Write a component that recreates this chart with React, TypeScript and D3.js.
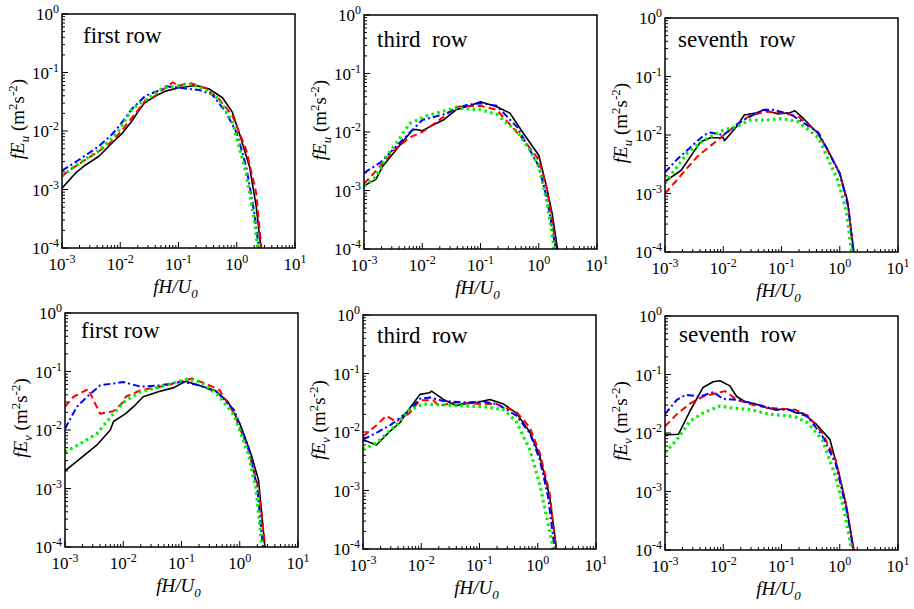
import React from "react";
import * as d3 from "d3";

type Pt = [number, number];

// ---------- data: [fH/U0, fE] pairs ----------
// Panel 1: fE_u, first row
const p1Black: Pt[] = [[1e-3,1.05e-3],[1.7e-3,1.9e-3],[2.5e-3,2.6e-3],[4.3e-3,3.7e-3],[7.3e-3,6.3e-3],[1.1e-2,9.3e-3],[1.6e-2,0.015],[2e-2,0.021],[2.6e-2,0.03],[4.1e-2,0.04],[6e-2,0.048],[0.1,0.055],[0.2,0.06],[0.34,0.052],[0.57,0.037],[0.84,0.021],[1.1,9.3e-3],[1.65,2.5e-3],[2.15,5.3e-4],[2.6,1e-4]];
const p1Red: Pt[] = [[1e-3,1.7e-3],[1.5e-3,2.3e-3],[2.5e-3,3.2e-3],[4.3e-3,4.5e-3],[7e-3,6.5e-3],[1e-2,9.5e-3],[1.6e-2,0.017],[2.7e-2,0.033],[4e-2,0.04],[6.7e-2,0.06],[8e-2,0.068],[0.1,0.059],[0.15,0.067],[0.28,0.055],[0.5,0.035],[0.85,0.018],[1.45,4.8e-3],[2.15,8.8e-4],[2.65,1e-4]];
const p1Blue: Pt[] = [[1e-3,2.1e-3],[1.5e-3,2.7e-3],[2.5e-3,3.8e-3],[4.3e-3,5.5e-3],[7e-3,8.5e-3],[9.5e-3,0.012],[1.6e-2,0.024],[2.7e-2,0.04],[5.3e-2,0.052],[6e-2,0.058],[0.1,0.055],[0.23,0.05],[0.38,0.042],[0.65,0.021],[1.0,9.3e-3],[1.45,2.5e-3],[2.0,4e-4],[2.4,1e-4]];
const p1Green: Pt[] = [[1e-3,1.7e-3],[1.5e-3,2.3e-3],[2.5e-3,3.3e-3],[4.3e-3,4.6e-3],[7e-3,7.2e-3],[1e-2,0.011],[1.6e-2,0.024],[3.1e-2,0.037],[5.5e-2,0.055],[0.1,0.059],[0.17,0.063],[0.28,0.052],[0.5,0.035],[0.85,0.014],[1.45,1.9e-3],[2.0,3e-4],[2.3,1e-4]];

// Panel 2: fE_u, third row
const p2Black: Pt[] = [[1e-3,1.2e-3],[1.6e-3,1.55e-3],[2.1e-3,2.6e-3],[3.6e-3,5e-3],[6.9e-3,0.011],[8e-3,0.011],[1e-2,0.0105],[1.5e-2,0.013],[2.3e-2,0.016],[3.8e-2,0.024],[6.5e-2,0.028],[0.1,0.033],[0.19,0.027],[0.32,0.021],[0.54,9.6e-3],[1.0,4e-3],[1.35,1.2e-3],[1.7,4e-4],[2.1,1e-4]];
const p2Red: Pt[] = [[1e-3,1.3e-3],[1.9e-3,2.6e-3],[3.6e-3,5.3e-3],[6e-3,8e-3],[1e-2,0.01],[2.3e-2,0.018],[3.8e-2,0.027],[0.1,0.028],[0.19,0.024],[0.54,7.5e-3],[1.0,3.4e-3],[1.4,1e-3],[2.0,1e-4]];
const p2Blue: Pt[] = [[1e-3,2e-3],[1.9e-3,3e-3],[4.7e-3,7.5e-3],[1e-2,0.016],[2.3e-2,0.02],[5.8e-2,0.029],[0.1,0.031],[0.19,0.028],[0.43,0.012],[1.0,2.6e-3],[1.4,7e-4],[1.95,1e-4]];
const p2Green: Pt[] = [[1e-3,1.2e-3],[1.6e-3,1.7e-3],[2.4e-3,3.8e-3],[3.6e-3,6.5e-3],[6.1e-3,0.014],[1.2e-2,0.019],[3.8e-2,0.026],[0.1,0.024],[0.19,0.02],[0.43,0.01],[0.7,5e-3],[1.0,2.6e-3],[1.4,6e-4],[1.85,1e-4]];

// Panel 3: fE_u, seventh row
const p3Black: Pt[] = [[1e-3,1.6e-3],[1.9e-3,2.5e-3],[4.1e-3,7.7e-3],[6e-3,9e-3],[1e-2,9e-3],[1.05e-2,8e-3],[1.7e-2,0.014],[2.3e-2,0.022],[3.8e-2,0.024],[5e-2,0.027],[8.5e-2,0.023],[0.14,0.024],[0.17,0.026],[0.24,0.019],[0.41,0.011],[0.6,6e-3],[1.0,2.2e-3],[1.35,7.7e-4],[1.75,1e-4]];
const p3Red: Pt[] = [[1e-3,1e-3],[1.6e-3,1.7e-3],[3.6e-3,4.3e-3],[9e-3,9e-3],[1.7e-2,0.015],[3e-2,0.022],[5.5e-2,0.025],[0.1,0.024],[0.19,0.021],[0.43,0.0107],[1.0,2.2e-3],[1.4,6e-4],[1.72,1e-4]];
const p3Blue: Pt[] = [[1e-3,2.3e-3],[1.6e-3,3.8e-3],[2.8e-3,6.3e-3],[4.7e-3,0.01],[6e-3,0.011],[1e-2,0.01],[2.2e-2,0.018],[5e-2,0.027],[7e-2,0.027],[0.14,0.023],[0.43,0.011],[1.0,2.2e-3],[1.4,6e-4],[1.7,1e-4]];
const p3Green: Pt[] = [[1e-3,1.5e-3],[2.4e-3,4.9e-3],[4.7e-3,8.2e-3],[1e-2,0.012],[1.7e-2,0.014],[2.9e-2,0.018],[5.5e-2,0.018],[0.1,0.019],[0.19,0.017],[0.43,9e-3],[0.92,1.7e-3],[1.3,5e-4],[1.6,1e-4]];

// Panel 4: fE_v, first row
const p4Black: Pt[] = [[1e-3,2e-3],[1.8e-3,3.2e-3],[3.5e-3,5.5e-3],[6e-3,0.01],[6.8e-3,0.014],[1.1e-2,0.019],[1.5e-2,0.025],[2.2e-2,0.037],[4e-2,0.045],[7.4e-2,0.053],[0.117,0.068],[0.19,0.059],[0.37,0.048],[0.62,0.031],[1.0,0.013],[1.56,3.9e-3],[2.1,1.4e-3],[2.7,1e-4]];
const p4Red: Pt[] = [[1e-3,0.025],[1.4e-3,0.037],[2.5e-3,0.05],[4e-3,0.019],[6.8e-3,0.021],[1e-2,0.03],[1.1e-2,0.037],[2e-2,0.048],[4e-2,0.054],[0.1,0.067],[0.15,0.076],[0.25,0.063],[0.45,0.048],[0.8,0.019],[1.4,4.7e-3],[2.1,1e-3],[2.75,1e-4]];
const p4Blue: Pt[] = [[1e-3,0.0105],[1.6e-3,0.025],[2.4e-3,0.037],[4e-3,0.058],[1e-2,0.066],[2e-2,0.055],[4.3e-2,0.058],[0.1,0.067],[0.19,0.059],[0.4,0.045],[0.8,0.022],[1.4,5.3e-3],[2.0,1e-3],[2.5,1e-4]];
const p4Green: Pt[] = [[1e-3,4.2e-3],[1.8e-3,5.8e-3],[3.5e-3,8.6e-3],[6.8e-3,0.019],[1.1e-2,0.032],[2e-2,0.045],[4.3e-2,0.055],[0.125,0.074],[0.21,0.067],[0.4,0.042],[0.8,0.018],[1.4,3.9e-3],[1.9,1e-3],[2.4,1e-4]];

// Panel 5: fE_v, third row
const p5Black: Pt[] = [[1e-3,7.4e-3],[1.7e-3,6e-3],[2.9e-3,0.0103],[4.3e-3,0.0144],[5.9e-3,0.023],[9.5e-3,0.044],[1.4e-2,0.047],[1.5e-2,0.05],[2.4e-2,0.036],[4e-2,0.028],[5e-2,0.03],[9e-2,0.032],[0.15,0.036],[0.26,0.03],[0.43,0.021],[0.73,0.01],[1.08,3.9e-3],[1.6,8e-4],[2.1,1e-4]];
const p5Red: Pt[] = [[1e-3,8.4e-3],[1.7e-3,0.013],[2.5e-3,0.019],[3.7e-3,0.015],[6.3e-3,0.021],[9.5e-3,0.035],[1.6e-2,0.035],[2e-2,0.028],[4e-2,0.032],[0.12,0.03],[0.2,0.03],[0.43,0.022],[0.73,0.012],[1.08,4.4e-3],[1.6,9e-4],[2.05,1e-4]];
const p5Blue: Pt[] = [[1e-3,7.4e-3],[1.7e-3,9.7e-3],[2.9e-3,0.013],[5.5e-3,0.021],[9.5e-3,0.037],[1.4e-2,0.039],[2.4e-2,0.034],[5e-2,0.032],[0.12,0.033],[0.2,0.03],[0.43,0.019],[0.73,9.6e-3],[1.08,3.4e-3],[1.5,8e-4],[1.95,1e-4]];
const p5Green: Pt[] = [[1e-3,5e-3],[1.7e-3,6.5e-3],[3.7e-3,0.013],[6.3e-3,0.024],[1.1e-2,0.03],[2.4e-2,0.029],[5e-2,0.028],[0.12,0.027],[0.26,0.024],[0.43,0.015],[0.73,5e-3],[1.08,1.3e-3],[1.85,1e-4]];

// Panel 6: fE_v, seventh row
const p6Black: Pt[] = [[1e-3,9.3e-3],[1.7e-3,9.5e-3],[2.7e-3,0.024],[4.5e-3,0.06],[6.7e-3,0.075],[8.8e-3,0.078],[1.3e-2,0.064],[1.7e-2,0.042],[2.3e-2,0.035],[3.7e-2,0.031],[5.5e-2,0.027],[8e-2,0.025],[0.12,0.026],[0.18,0.022],[0.23,0.022],[0.4,0.014],[0.68,7.7e-3],[1.0,1.8e-3],[1.3,5.6e-4],[1.75,1e-4]];
const p6Red: Pt[] = [[1e-3,0.013],[1.6e-3,0.021],[2.7e-3,0.032],[4.5e-3,0.042],[7.7e-3,0.048],[1.07e-2,0.052],[1.7e-2,0.037],[3.3e-2,0.03],[6e-2,0.027],[0.1,0.026],[0.17,0.025],[0.28,0.02],[0.5,0.01],[0.85,3.5e-3],[1.3,5.6e-4],[1.72,1e-4]];
const p6Blue: Pt[] = [[1e-3,0.021],[1.6e-3,0.037],[2.3e-3,0.045],[4e-3,0.042],[6.8e-3,0.05],[1e-2,0.038],[1.7e-2,0.037],[3.7e-2,0.031],[8e-2,0.025],[0.14,0.025],[0.28,0.019],[0.5,9e-3],[0.85,3e-3],[1.3,5e-4],[1.7,1e-4]];
const p6Green: Pt[] = [[1e-3,4.6e-3],[1.6e-3,7.7e-3],[2.7e-3,0.016],[4.5e-3,0.022],[8.8e-3,0.029],[1.3e-2,0.027],[3e-2,0.025],[6e-2,0.021],[0.1,0.02],[0.17,0.019],[0.28,0.015],[0.5,7.7e-3],[0.85,1.8e-3],[1.2,4.6e-4],[1.6,1e-4]];

const xTickExps = [-3, -2, -1, 0, 1];
const yTickExps = [0, -1, -2, -3, -4];
const rowNames = ["first row", "third  row", "seventh  row"];
const components = ["u", "v"];

// ---------- styles / layout ----------
const seriesStyles = [
  { color: "#000000", dash: "", width: 1.6 },
  { color: "#ff0000", dash: "7,4", width: 2 },
  { color: "#0000ff", dash: "7,3,2,3", width: 2 },
  { color: "#00ee00", dash: "2.5,3.5", width: 3.2 },
];

const PW = 233;
const PH = 234;
const FONT = "Liberation Serif";

const panels = [
  { left: 62, top: 14, comp: 0, row: 0, lx: 21, ly: 29, series: [p1Black, p1Red, p1Blue, p1Green] },
  { left: 364, top: 15, comp: 0, row: 1, lx: 13, ly: 32, series: [p2Black, p2Red, p2Blue, p2Green] },
  { left: 665, top: 18, comp: 0, row: 2, lx: 13, ly: 29, series: [p3Black, p3Red, p3Blue, p3Green] },
  { left: 65, top: 313, comp: 1, row: 0, lx: 16, ly: 25, series: [p4Black, p4Red, p4Blue, p4Green] },
  { left: 363, top: 315, comp: 1, row: 1, lx: 14, ly: 28, series: [p5Black, p5Red, p5Blue, p5Green] },
  { left: 665, top: 316, comp: 1, row: 2, lx: 14, ly: 26, series: [p6Black, p6Red, p6Blue, p6Green] },
];

function Panel({ p, idx }: { p: typeof panels[number]; idx: number }) {
  const x = d3.scaleLog().domain([1e-3, 1e1]).range([0, PW]);
  const y = d3.scaleLog().domain([1e-4, 1e0]).range([PH, 0]);
  const line = d3
    .line<Pt>()
    .x((d) => x(d[0]))
    .y((d) => y(d[1]));

  const minorX: number[] = [];
  for (let e = -3; e < 1; e++) for (let m = 2; m <= 9; m++) minorX.push(m * Math.pow(10, e));
  const minorY: number[] = [];
  for (let e = -4; e < 0; e++) for (let m = 2; m <= 9; m++) minorY.push(m * Math.pow(10, e));

  const clipId = `clip${idx}`;
  const comp = components[p.comp];
  return (
    <g transform={`translate(${p.left},${p.top})`}>
      <defs>
        <clipPath id={clipId}>
          <rect x={0} y={0} width={PW} height={PH} />
        </clipPath>
      </defs>
      {xTickExps.map((e) => (
        <line key={"xM" + e} x1={x(Math.pow(10, e))} x2={x(Math.pow(10, e))} y1={PH} y2={PH - 6} stroke="#000" strokeWidth={1} />
      ))}
      {minorX.map((v, i) => (
        <line key={"xm" + i} x1={x(v)} x2={x(v)} y1={PH} y2={PH - 3} stroke="#000" strokeWidth={1} />
      ))}
      {yTickExps.map((e) => (
        <line key={"yM" + e} x1={0} x2={6} y1={y(Math.pow(10, e))} y2={y(Math.pow(10, e))} stroke="#000" strokeWidth={1} />
      ))}
      {minorY.map((v, i) => (
        <line key={"ym" + i} x1={0} x2={3} y1={y(v)} y2={y(v)} stroke="#000" strokeWidth={1} />
      ))}
      <g clipPath={`url(#${clipId})`}>
        {p.series.map((s, i) => (
          <path
            key={i}
            d={line(s) || ""}
            fill="none"
            stroke={seriesStyles[i].color}
            strokeWidth={seriesStyles[i].width}
            strokeDasharray={seriesStyles[i].dash || undefined}
            strokeLinejoin="round"
          />
        ))}
      </g>
      <rect x={0} y={0} width={PW} height={PH} fill="none" stroke="#000" strokeWidth={1.5} />
      {xTickExps.map((e) => (
        <text key={"xl" + e} x={x(Math.pow(10, e))} y={PH + 22} textAnchor="middle" fontSize={17} fontFamily={FONT}>
          10<tspan fontSize={12} dy={-7}>{String(e)}</tspan>
        </text>
      ))}
      {yTickExps.map((e) => (
        <text key={"yl" + e} x={-3} y={y(Math.pow(10, e)) + 6} textAnchor="end" fontSize={17} fontFamily={FONT}>
          10<tspan fontSize={12} dy={-7}>{String(e)}</tspan>
        </text>
      ))}
      <text x={p.lx} y={p.ly} fontSize={23} fontFamily={FONT} style={{ whiteSpace: "pre" }}>
        {rowNames[p.row]}
      </text>
      <text x={PW / 2 - 3} y={PH + 45} textAnchor="middle" fontSize={19} fontFamily={FONT}>
        <tspan fontStyle="italic">fH/U</tspan>
        <tspan fontStyle="italic" fontSize={13} dy={5}>0</tspan>
      </text>
      <text transform={`translate(${-38},${PH / 2 - 12}) rotate(-90)`} textAnchor="middle" fontSize={19} fontFamily={FONT}>
        <tspan fontStyle="italic">fE</tspan>
        <tspan fontStyle="italic" fontSize={13} dy={5}>{comp}</tspan>
        <tspan dy={-5}>{" (m"}</tspan>
        <tspan fontSize={13} dy={-7}>2</tspan>
        <tspan dy={7}>s</tspan>
        <tspan fontSize={13} dy={-7}>-2</tspan>
        <tspan dy={7}>)</tspan>
      </text>
    </g>
  );
}

export default function App() {
  return (
    <svg width={914} height={609} style={{ position: "absolute", left: 0, top: 0, background: "#fff" }}>
      <rect x={0} y={0} width={914} height={609} fill="#fff" />
      {panels.map((p, i) => (
        <Panel key={i} p={p} idx={i} />
      ))}
    </svg>
  );
}
